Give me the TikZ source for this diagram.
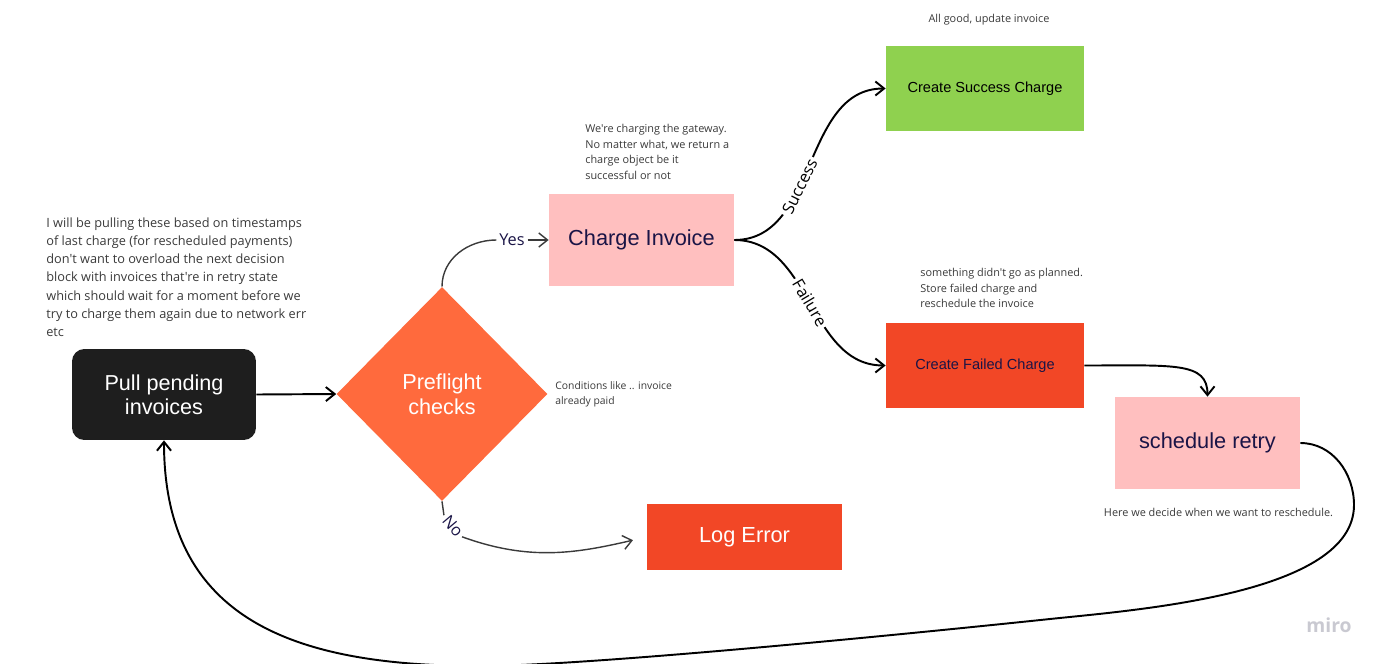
\documentclass[tikz,border=0pt]{standalone}
\usepackage{fontspec}
\setmainfont{Liberation Sans}
\newfontfamily\notefont{Open Sans}
\usetikzlibrary{shapes.geometric,arrows.meta}
\definecolor{miroblack}{HTML}{1E1E1E}
\definecolor{preorange}{HTML}{FF6A3D}
\definecolor{softpink}{HTML}{FFBFBF}
\definecolor{okgreen}{HTML}{8FD14F}
\definecolor{errred}{HTML}{F24726}
\definecolor{inkblue}{HTML}{1A1446}
\definecolor{notegray}{HTML}{3A3A3A}
\definecolor{markgray}{HTML}{C9C9D1}
\begin{document}
\begin{tikzpicture}[x=0.02cm,y=0.02cm,
  block/.style={rectangle,inner sep=0pt,minimum width=3.7cm,minimum height=1.84cm,font=\fontsize{12.4}{14}\selectfont},
  small block/.style={block,minimum width=3.96cm,minimum height=1.7cm,font=\fontsize{8.3}{10}\selectfont},
  note/.style={notegray,inner sep=0pt,align=left,font=\notefont\fontsize{6.2}{8.9}\selectfont},
  label text/.style={inner sep=1.5pt,font=\notefont\fontsize{9.3}{10}\selectfont},
  link/.style={line width=1.1pt,-{Straight Barb[length=5pt,width=8pt]}},
  thin link/.style={line width=0.8pt,notegray}]
\useasboundingbox (0,0) rectangle (1383,-663);
\node[block,rounded corners=7pt,fill=miroblack,text=white,minimum width=3.68cm,minimum height=1.82cm,align=center,font=\fontsize{12.3}{13.8}\selectfont] (pull) at (164,-394.5) {Pull pending\\invoices};
\node[diamond,fill=preorange,text=white,inner sep=0pt,minimum width=4.22cm,minimum height=4.28cm,align=center,font=\fontsize{12.3}{14.2}\selectfont] (pre) at (442,-394) {Preflight\\checks};
\node[block,fill=softpink,text=inkblue] (ci) at (641.5,-240) {Charge Invoice};
\node[small block,fill=okgreen,text=black] (succ) at (985,-88.5) {Create Success Charge};
\node[small block,fill=errred,text=inkblue] (fail) at (985,-365.5) {Create Failed Charge};
\node[block,fill=softpink,text=inkblue] (retry) at (1207.5,-443) {schedule retry};
\node[block,fill=errred,text=white,minimum width=3.9cm,minimum height=1.32cm] (log) at (744.5,-537) {Log Error};

\node[note,anchor=north west,font=\notefont\fontsize{7.25}{10.4}\selectfont] (pullnote) at (46,-217) {I will be pulling these based on timestamps\\of last charge (for rescheduled payments)\\don't want to overload the next decision\\block with invoices that're in retry state\\which should wait for a moment before we\\try to charge them again due to network err\\etc};
\node[note,anchor=north west] (cinote) at (585,-124) {We're charging the gateway.\\No matter what, we return a\\charge object be it\\successful or not};
\node[note] (succnote) at (989,-20) {All good, update invoice};
\node[note,anchor=north west] (failnote) at (920,-268) {something didn't go as planned.\\Store failed charge and\\reschedule the invoice};
\node[note,anchor=north west,font=\notefont\fontsize{5.9}{8.5}\selectfont] (prenote) at (555,-381) {Conditions like .. invoice\\already paid};
\node[note] (retrynote) at (1218.5,-512) {Here we decide when we want to reschedule.};
\node[font=\notefont\bfseries\fontsize{11}{12}\selectfont,text=markgray] (miro) at (1329,-625) {miro};

\node[label text,text=inkblue] (yes) at (512,-240) {Yes};
\node[label text,text=inkblue,rotate=-50] (no) at (453,-526) {No};

\draw[link] (pull.east) -- (pre.west);
\draw[thin link] (pre.north) to[out=90,in=180] (yes.west);
\draw[link,thin link] (yes.east) -- (ci.west);
\draw[thin link] (pre.south) -- (no.west);
\draw[link,thin link,shorten >=8pt] (no.east) to[out=-20,in=193] (log.west);
\draw[link] (ci.east) to[out=0,in=180] node[label text,sloped,pos=0.4,fill=white] (oklabel) {Success} (succ.west);
\draw[link] (ci.east) to[out=0,in=180] node[label text,sloped,pos=0.5,fill=white] (badlabel) {Failure} (fail.west);
\draw[link] (fail.east) .. controls +(90,0) and +(0,35) .. (retry.north);
\coordinate (turn) at (1354,-505);
\coordinate (sweep) at (1050,-619);
\coordinate (floor) at (480,-666);
\draw[link] (retry.east) to[out=0,in=90] (turn) to[out=-90,in=6,looseness=0.7] (sweep) to[out=186,in=0,looseness=0.5] (floor) to[out=180,in=-90,looseness=1.2] (pull.south);
\end{tikzpicture}
\end{document}
